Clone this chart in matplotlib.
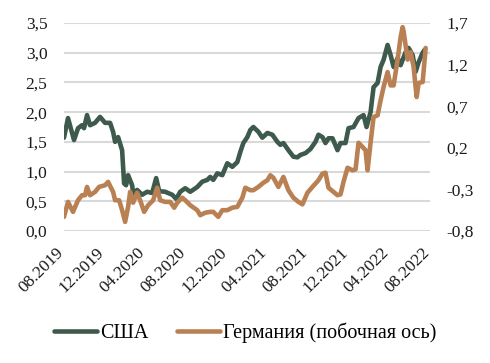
import matplotlib
matplotlib.use("Agg")
import matplotlib.pyplot as plt
import pandas as pd

us_dates = ["2019-08-01","2019-08-13","2019-08-31","2019-09-12","2019-09-24","2019-09-30","2019-10-09","2019-10-18",
            "2019-11-02","2019-11-17","2019-12-02","2019-12-17","2019-12-26","2020-01-01","2020-01-10","2020-01-22",
            "2020-01-28","2020-02-03","2020-02-09","2020-02-21","2020-02-24","2020-03-07","2020-03-22","2020-04-06",
            "2020-04-21","2020-05-03","2020-05-12","2020-05-30","2020-06-20","2020-07-02","2020-07-14","2020-07-29",
            "2020-08-13","2020-09-03","2020-09-18","2020-10-03","2020-10-12","2020-10-21","2020-11-02","2020-11-17",
            "2020-12-02","2020-12-17","2021-01-01","2021-01-10","2021-01-19","2021-01-31","2021-02-09","2021-02-18",
            "2021-03-05","2021-03-17","2021-04-01","2021-04-16","2021-05-01","2021-05-10","2021-05-19","2021-06-03",
            "2021-06-18","2021-06-30","2021-07-09","2021-07-24","2021-08-08","2021-08-23","2021-09-01","2021-09-13",
            "2021-09-22","2021-10-01","2021-10-13","2021-10-28","2021-11-06","2021-11-21","2021-11-30","2021-12-15",
            "2021-12-30","2022-01-14","2022-01-23","2022-02-04","2022-02-13","2022-02-25","2022-03-06","2022-03-15",
            "2022-03-27","2022-04-05","2022-04-14","2022-04-26","2022-05-05","2022-05-20","2022-05-29","2022-06-10",
            "2022-06-19","2022-06-28","2022-07-10","2022-07-16"]
us_values = [1.57,1.90,1.53,1.73,1.78,1.73,1.95,1.78,
             1.82,1.92,1.82,1.82,1.67,1.50,1.58,1.36,
             0.80,0.77,0.94,0.77,0.64,0.69,0.61,0.66,
             0.64,0.89,0.67,0.66,0.61,0.54,0.66,0.72,
             0.66,0.74,0.83,0.86,0.91,0.86,0.97,0.94,
             1.14,1.08,1.16,1.33,1.48,1.58,1.70,1.75,
             1.67,1.57,1.65,1.62,1.50,1.45,1.48,1.36,
             1.25,1.24,1.28,1.31,1.38,1.50,1.62,1.58,
             1.48,1.56,1.56,1.36,1.48,1.48,1.73,1.75,
             1.90,1.95,1.75,2.00,2.42,2.49,2.76,2.88,
             3.13,2.96,2.76,2.91,2.79,3.01,3.08,2.96,
             2.68,2.84,3.00,3.05]

de_dates = ["2019-08-01","2019-08-13","2019-08-28","2019-09-12","2019-09-24","2019-10-03","2019-10-09","2019-10-18",
            "2019-11-02","2019-11-14","2019-12-02","2019-12-11","2019-12-26","2020-01-01","2020-01-13","2020-01-22",
            "2020-01-31","2020-02-09","2020-02-15","2020-02-24","2020-03-07","2020-03-16","2020-03-28","2020-04-09",
            "2020-04-24","2020-05-06","2020-05-15","2020-05-30","2020-06-14","2020-06-26","2020-07-05","2020-07-20",
            "2020-07-29","2020-08-13","2020-09-03","2020-09-12","2020-09-27","2020-10-12","2020-10-21","2020-11-05",
            "2020-11-17","2020-12-02","2020-12-17","2021-01-01","2021-01-16","2021-01-25","2021-02-09","2021-02-18",
            "2021-03-05","2021-03-20","2021-04-01","2021-04-10","2021-04-19","2021-05-04","2021-05-19","2021-06-03",
            "2021-06-18","2021-07-03","2021-07-15","2021-07-30","2021-08-14","2021-09-01","2021-09-13","2021-09-22",
            "2021-10-01","2021-10-16","2021-10-28","2021-11-06","2021-11-15","2021-11-27","2021-12-12","2021-12-21",
            "2021-12-30","2022-01-11","2022-01-20","2022-01-26","2022-02-04","2022-02-13","2022-02-25","2022-03-06",
            "2022-03-15","2022-03-27","2022-04-05","2022-04-14","2022-04-26","2022-05-05","2022-05-11","2022-05-14",
            "2022-05-26","2022-06-04","2022-06-13","2022-06-22","2022-06-28","2022-07-10","2022-07-19"]
de_values = [-0.63,-0.45,-0.57,-0.43,-0.37,-0.37,-0.27,-0.37,
             -0.33,-0.27,-0.25,-0.21,-0.33,-0.43,-0.43,-0.55,
             -0.69,-0.51,-0.33,-0.46,-0.34,-0.43,-0.57,-0.49,
             -0.43,-0.28,-0.43,-0.45,-0.45,-0.52,-0.46,-0.40,
             -0.43,-0.49,-0.55,-0.61,-0.58,-0.57,-0.57,-0.63,
             -0.55,-0.55,-0.52,-0.51,-0.40,-0.28,-0.31,-0.31,
             -0.27,-0.22,-0.19,-0.13,-0.16,-0.27,-0.15,-0.31,
             -0.40,-0.45,-0.48,-0.34,-0.27,-0.19,-0.11,-0.10,
             -0.28,-0.33,-0.37,-0.36,-0.21,-0.04,-0.07,-0.06,
             0.26,0.21,0.17,-0.07,0.26,0.57,0.59,0.77,
             0.93,1.11,0.95,0.95,1.26,1.53,1.65,1.60,
             1.26,1.35,1.17,0.81,0.98,0.99,1.40]

left_ticks = [0.0, 0.5, 1.0, 1.5, 2.0, 2.5, 3.0, 3.5]
right_ticks = [-0.8, -0.3, 0.2, 0.7, 1.2, 1.7]
x_ticks = ["2019-08-01","2019-12-01","2020-04-01","2020-08-01","2020-12-01",
           "2021-04-01","2021-08-01","2021-12-01","2022-04-01","2022-08-01"]

US_COLOR = "#3e5a4d"
DE_COLOR = "#b98153"

plt.rcParams['font.family'] = ['Liberation Serif', 'DejaVu Serif']
fig = plt.figure(figsize=(4.9, 3.63), dpi=100)
ax = fig.add_axes([64/490, 1-231/363, 366/490, 208/363])
ax2 = ax.twinx()

ax.set_ylim(0, 3.5)
ax2.set_ylim(-0.8, 1.7)
ax.set_xlim(pd.Timestamp("2019-08-01"), pd.Timestamp("2022-08-01"))

ax.set_yticks(left_ticks)
ax.set_yticklabels([f"{t:.1f}".replace('.', ',') for t in left_ticks])
ax2.set_yticks(right_ticks)
ax2.set_yticklabels([f"{t:.1f}".replace('.', ',') for t in right_ticks])

ax.grid(axis='y', color='#d9d9d9', linewidth=1.5)
ax.set_axisbelow(True)
for a in (ax, ax2):
    for s in a.spines.values():
        s.set_visible(False)
    a.tick_params(length=0, labelsize=12.5, colors='#1a1a1a')
ax.tick_params(axis='y', pad=12)
ax2.tick_params(axis='y', pad=12)

xt = pd.to_datetime(x_ticks)
ax.set_xticks(xt)
ax.set_xticklabels([d.strftime("%m.%Y") for d in xt], rotation=45, ha='right', va='baseline',
                   rotation_mode='anchor', fontsize=12.5)
ax.tick_params(axis='x', pad=16)

l1, = ax.plot(pd.to_datetime(us_dates), us_values, color=US_COLOR, linewidth=3.3, solid_capstyle='round',
              solid_joinstyle='round', label='США')
l2, = ax2.plot(pd.to_datetime(de_dates), de_values, color=DE_COLOR, linewidth=3.3, solid_capstyle='round',
               solid_joinstyle='round', label='Германия (побочная ось)')

fig.legend(handles=[l1, l2], loc='center', bbox_to_anchor=(0.5, 1-333/363), ncol=2, frameon=False,
           fontsize=14.5, handlelength=2.15, handletextpad=0.15, columnspacing=1.4)

fig.savefig("out.png", dpi=100)
